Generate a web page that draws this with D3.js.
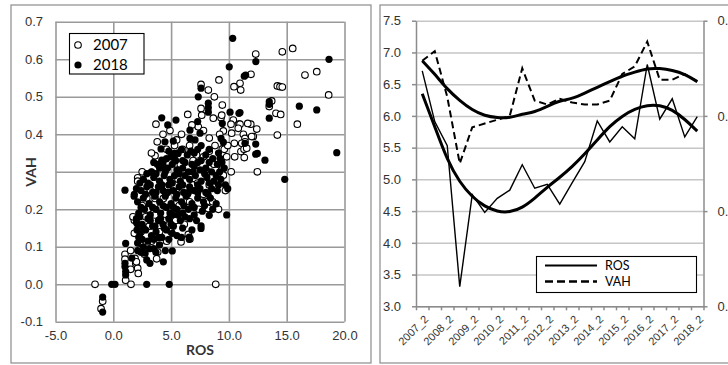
<!DOCTYPE html>
<html>
<head>
<meta charset="utf-8">
<script src="https://cdn.jsdelivr.net/npm/d3@7"></script>
<style>
  body { margin: 0; background: #fff; }
  svg { display: block; font-family: Lato, "Liberation Sans", sans-serif; }
</style>
</head>
<body>
<div id="chart"></div>
<script>
// ---- data ----
var cats = ["2007_2","2008_1","2008_2","2009_1","2009_2","2010_1","2010_2","2011_1","2011_2",
  "2012_1","2012_2","2013_1","2013_2","2014_1","2014_2","2015_1","2015_2","2016_1","2016_2",
  "2017_1","2017_2","2018_1","2018_2"];
var rosMean = [6.71,5.91,5.53,3.31,4.76,4.48,4.70,4.83,5.23,4.86,4.92,4.61,4.95,5.28,5.92,5.59,
  5.83,5.64,6.81,5.95,6.27,5.67,5.99];
var vahMean = [0.279,0.284,0.260,0.225,0.244,0.246,0.248,0.250,0.275,0.258,0.256,0.259,0.257,
  0.256,0.256,0.258,0.272,0.276,0.289,0.269,0.269,0.272,0.268];
// polynomial trend lines as shown in the chart
var rosTrend = [6.35,5.83,5.30,4.95,4.72,4.57,4.49,4.48,4.55,4.70,4.88,5.03,5.20,5.40,5.62,5.84,
  6.00,6.11,6.17,6.17,6.10,5.95,5.76];
var vahTrend = [0.279,0.272,0.264,0.258,0.253,0.250,0.249,0.249,0.251,0.252,0.255,0.258,0.259,
  0.262,0.265,0.268,0.271,0.273,0.275,0.275,0.274,0.272,0.268];
var xTicksL = [-5, 0, 5, 10, 15, 20];
var yTicksL = [-0.1, 0, 0.1, 0.2, 0.3, 0.4, 0.5, 0.6, 0.7];
var yTicksR = [3.0, 3.5, 4.0, 4.5, 5.0, 5.5, 6.0, 6.5, 7.0, 7.5];
var yTicks2 = [0.15, 0.20, 0.25, 0.30];

// [ROS, VAH] per firm
var pts2007 = [[12.32,0.614],[14.62,0.620],[15.52,0.629],[11.91,0.560],[16.58,0.558],[17.60,0.567],
  [14.19,0.529],[14.42,0.527],[14.62,0.526],[18.63,0.505],[13.70,0.489],[13.49,0.474],
  [14.07,0.456],[14.48,0.453],[15.92,0.427],[14.19,0.398],
  [10.96,0.536],[10.44,0.527],[11.02,0.518],[9.14,0.545],[7.59,0.533],[8.22,0.518],[8.74,0.500],
  [7.59,0.469],[9.43,0.478],[6.44,0.453],[7.65,0.451],[8.65,0.443],[9.32,0.444],[9.38,0.451],[10.38,0.438],
  [10.18,0.427],[10.87,0.427],[10.96,0.427],[11.89,0.427],[11.63,0.429],[3.69,0.427],[7.35,0.420],
  [9.52,0.409],[10.24,0.403],[10.81,0.416],[12.41,0.414],[11.25,0.400],[12.11,0.394],[11.39,0.389],
  [11.97,0.394],[11.39,0.380],[10.47,0.376],[11.11,0.376],[5.48,0.385],[3.61,0.343],[5.57,0.349],
  [9.43,0.361],[9.43,0.349],[9.81,0.340],[11.04,0.354],[11.31,0.360],[11.54,0.363],[11.33,0.338],
  [12.46,0.300],[9.38,0.305],[9.52,0.291],[8.08,0.220],[8.22,0.202],[6.14,0.160],[6.49,0.133],
  [6.63,0.121],[5.86,0.113],[4.62,0.115],[4.04,0.114],[3.84,0.086],[3.75,0.068],[5.10,0.160],
  [3.61,0.229],[4.33,0.229],[2.11,0.284],[2.11,0.275],[1.82,0.171],[1.82,0.136],[1.01,0.080],
  [1.01,0.067],[1.07,0.011],[1.88,0.069],[1.94,0.056],[2.11,0.043],[2.16,0.029],
  [-1.58,0],[1.53,0],[8.86,0],[-0.92,-0.045],[-1.06,-0.065],
  [3.8,0.38],[4.6,0.36],[5.3,0.37],[6.0,0.36],[6.6,0.37],[7.2,0.345],[8.3,0.355],[8.8,0.37],
  [9.6,0.36],[6.9,0.33],[7.8,0.34],[5.8,0.32],[8.2,0.30],[9.0,0.29],[8.7,0.32],[5.6,0.28],
  [6.9,0.265],[7.3,0.27],[8.3,0.265],[4.7,0.26],[3.2,0.25],[5.5,0.245],[6.4,0.24],[7.8,0.24],
  [8.6,0.22],[9.1,0.20],[4.1,0.205],[3.0,0.20],[2.5,0.21],[5.7,0.21],[6.6,0.22],[7.4,0.20],
  [4.4,0.17],[2.8,0.18],[3.6,0.185],[5.0,0.20],[5.4,0.17],[2.4,0.14],[3.1,0.155],[4.0,0.14],
  [5.0,0.14],[2.3,0.11],[3.3,0.115],[2.7,0.08],[2.0,0.06],[1.5,0.04],[1.5,0.09],[9.7,0.25],
  [10.2,0.30],[10.5,0.34],[9.9,0.37],[9.2,0.40],[8.3,0.39],[7.8,0.41],[6.8,0.425],[5.9,0.40],
  [4.9,0.41],[4.3,0.40],[3.3,0.35],[2.5,0.30],[2.9,0.23],[1.7,0.18]];

var pts2018 = [[10.33,0.656],[10.03,0.580],[11.45,0.558],[11.33,0.555],[12.33,0.594],[18.66,0.600],
  [13.49,0.487],[13.49,0.480],[13.49,0.443],[16.09,0.475],[17.60,0.465],[10.96,0.458],[11.39,0.376],
  [12.32,0.374],[12.32,0.347],[12.46,0.349],[13.12,0.331],[14.83,0.280],[19.33,0.351],[10.87,0.456],
  [10.10,0.459],[7.35,0.500],[7.59,0.523],[8.22,0.483],[8.22,0.471],[8.22,0.459],[7.30,0.434],
  [9.43,0.429],[4.19,0.444],[5.42,0.438],[4.71,0.425],[6.63,0.411],[7.50,0.403],[7.07,0.385],
  [6.63,0.389],[9.32,0.389],[9.52,0.379],[4.47,0.380],[5.19,0.382],[4.13,0.361],[4.19,0.331],
  [4.19,0.318],[5.28,0.349],[5.28,0.336],[9.23,0.336],[9.81,0.185],[9.90,0.255],[8.30,0.184],
  [7.59,0.156],[7.59,0.149],[6.57,0.126],[6.57,0.120],[5.10,0.136],[5.10,0.089],[3.69,0.085],
  [3.17,0.056],[4.33,0.060],[1.01,0.251],[1.82,0.240],[3.32,0.299],[4.33,0.314],[1.07,0.109],
  [1.01,0.056],[1.01,0.047],[1.07,0.034],[1.07,0.025],[2.74,0.083],[2.89,0.065],[-0.14,0],
  [0.15,0],[2.89,0],[4.84,0],[-0.92,-0.034],[-0.92,-0.074],
  [2.0,0.175],[2.1,0.16],[2.05,0.145],[2.2,0.125],[2.1,0.11],
  [5.0,0.34],[5.6,0.35],[6.0,0.33],[6.4,0.345],[7.0,0.35],[7.6,0.33],[8.0,0.345],[8.6,0.335],
  [4.6,0.335],[3.8,0.32],[9.0,0.32],[7.3,0.36],[6.8,0.32],
  [3.3,0.30],[4.0,0.31],[4.5,0.30],[5.1,0.32],[5.5,0.305],[6.0,0.31],[6.5,0.30],[7.0,0.315],
  [7.5,0.305],[8.0,0.31],[8.5,0.30],[9.2,0.30],[9.6,0.31],[6.2,0.325],
  [2.6,0.28],[3.0,0.27],[3.5,0.285],[4.0,0.275],[4.4,0.29],[4.9,0.28],[5.3,0.29],[5.8,0.275],
  [6.2,0.29],[6.6,0.28],[7.1,0.29],[7.6,0.275],[8.1,0.285],[8.7,0.275],[9.3,0.28],[9.7,0.265],
  [2.0,0.255],[2.4,0.25],[2.9,0.26],[3.4,0.245],[3.9,0.26],[4.3,0.25],[4.8,0.265],[5.2,0.25],
  [5.7,0.26],[6.1,0.245],[6.6,0.26],[7.0,0.25],[7.5,0.255],[8.0,0.245],[8.5,0.255],[9.0,0.25],
  [2.1,0.22],[2.6,0.23],[3.1,0.215],[3.6,0.235],[4.0,0.22],[4.5,0.235],[5.0,0.215],[5.4,0.23],
  [5.9,0.22],[6.3,0.235],[6.8,0.215],[7.3,0.23],[7.8,0.22],[8.4,0.23],[8.9,0.215],
  [2.2,0.19],[2.7,0.20],[3.2,0.185],[3.7,0.20],[4.1,0.19],[4.6,0.205],[5.1,0.185],[5.5,0.20],
  [6.0,0.19],[6.5,0.20],[7.0,0.185],[7.7,0.195],
  [2.0,0.165],[2.5,0.16],[3.0,0.175],[3.4,0.155],[3.9,0.17],[4.3,0.16],[4.8,0.175],[5.2,0.155],
  [5.8,0.17],[6.2,0.18],
  [2.3,0.135],[2.8,0.145],[3.3,0.13],[3.7,0.14],[4.2,0.125],[4.6,0.145],[5.5,0.13],
  [2.6,0.10],[3.0,0.115],[3.5,0.095],[4.0,0.105],[2.1,0.09],
  [4.8,0.355],[5.9,0.36],[6.7,0.355],[8.3,0.36],[7.6,0.37],[9.1,0.35],
  [3.5,0.325],[4.3,0.325],[5.4,0.33],[7.3,0.325],[8.3,0.325],[9.4,0.325],
  [2.9,0.295],[3.7,0.295],[4.7,0.31],[5.7,0.295],[6.9,0.30],[7.9,0.295],[8.9,0.29],
  [2.3,0.27],[3.2,0.265],[4.2,0.265],[5.1,0.27],[6.0,0.265],[7.3,0.265],[8.3,0.27],[9.1,0.265],
  [1.8,0.235],[2.8,0.24],[3.7,0.245],[4.7,0.245],[5.5,0.24],[6.5,0.245],[7.3,0.245],[8.2,0.24],
  [2.4,0.205],[3.4,0.205],[4.3,0.21],[5.2,0.205],[6.1,0.21],[7.0,0.205],[7.9,0.21],[8.6,0.20],
  [2.3,0.18],[3.2,0.17],[4.1,0.175],[4.9,0.19],[5.6,0.185],[6.6,0.175],[7.2,0.17],
  [2.6,0.15],[3.6,0.155],[4.4,0.15],[5.0,0.16],[6.0,0.15],[6.8,0.145],
  [2.5,0.12],[3.5,0.12],[3.9,0.125],[4.8,0.12],[5.9,0.125],
  [2.4,0.085],[3.1,0.095],[4.5,0.09],[1.6,0.07]];

var W = 728, H = 365;
var svg = d3.select("#chart").append("svg").attr("width", W).attr("height", H);

// panel frames
svg.append("rect").attr("x", 11).attr("y", 5).attr("width", 360).attr("height", 358)
  .attr("fill", "#fff").attr("stroke", "#8c8c8c").attr("stroke-width", 1.2);
svg.append("rect").attr("x", 380).attr("y", 5).attr("width", 370).attr("height", 358)
  .attr("fill", "#fff").attr("stroke", "#8c8c8c").attr("stroke-width", 1.2);

// ================= left: scatter =================
var sx = d3.scaleLinear().domain([-5, 20]).range([55.5, 344.5]);
var sy = d3.scaleLinear().domain([-0.1, 0.7]).range([321.8, 21.8]);

var gx = svg.append("g").attr("transform", "translate(0,321.8)")
  .call(d3.axisBottom(sx).tickValues(xTicksL).tickSizeInner(-300).tickSizeOuter(0)
    .tickPadding(9).tickFormat(d => d.toFixed(1)));
var gy = svg.append("g").attr("transform", "translate(55.5,0)")
  .call(d3.axisLeft(sy).tickValues(yTicksL).tickSizeInner(-289).tickSizeOuter(0)
    .tickPadding(12.5).tickFormat(d => d.toFixed(1)));
[gx, gy].forEach(function(g) {
  g.select(".domain").remove();
  g.selectAll("line").attr("stroke", "#9a9a9a").attr("stroke-width", 1.6);
  g.selectAll("text").attr("fill", "#333").attr("font-size", 13);
});

svg.append("g").selectAll("circle").data(pts2007).enter().append("circle")
  .attr("cx", d => sx(d[0])).attr("cy", d => sy(d[1])).attr("r", 3.3)
  .attr("fill", "#fff").attr("stroke", "#000").attr("stroke-width", 1.1);
svg.append("g").selectAll("circle").data(pts2018).enter().append("circle")
  .attr("cx", d => sx(d[0])).attr("cy", d => sy(d[1])).attr("r", 3.6)
  .attr("fill", "#000");

svg.append("text").attr("x", 200).attr("y", 355).attr("text-anchor", "middle")
  .attr("font-size", 14).attr("font-weight", "bold").attr("fill", "#333").text("ROS");
// axis title box hides the 0.3 tick label, as in the original
svg.append("rect").attr("x", 20).attr("y", 153).attr("width", 24).attr("height", 38).attr("fill", "#fff");
svg.append("text").attr("transform", "translate(36,172) rotate(-90)").attr("text-anchor", "middle")
  .attr("font-size", 14).attr("font-weight", "bold").attr("fill", "#333").text("VAH");

// legend left
var lg = svg.append("g");
lg.append("rect").attr("x", 69.5).attr("y", 33.5).attr("width", 74.5).attr("height", 40.5)
  .attr("fill", "#fff").attr("stroke", "#000").attr("stroke-width", 1.1);
lg.append("circle").attr("cx", 78).attr("cy", 45).attr("r", 3.3)
  .attr("fill", "#fff").attr("stroke", "#000").attr("stroke-width", 1.1);
lg.append("circle").attr("cx", 78).attr("cy", 65).attr("r", 3.6).attr("fill", "#000");
lg.append("text").attr("x", 93).attr("y", 45).attr("dy", "0.36em").attr("font-size", 15)
  .attr("fill", "#000").text("2007");
lg.append("text").attr("x", 93).attr("y", 65).attr("dy", "0.36em").attr("font-size", 15)
  .attr("fill", "#000").text("2018");

// ================= right: lines =================
var bx = d3.scaleBand().domain(cats).range([416, 703.5]).padding(0);
var cx = d => bx(d) + bx.bandwidth() / 2;
var ly = d3.scaleLinear().domain([3.0, 7.5]).range([306.3, 20.7]);
var ry = d3.scaleLinear().domain([0.15, 0.30]).range([306.3, 20.7]);
var edge = d3.scaleLinear().domain([0, cats.length]).range([416, 703.5]);

// gridlines
var gg = svg.append("g").attr("transform", "translate(416,0)")
  .call(d3.axisLeft(ly).tickValues(yTicksR).tickSize(-287.5).tickFormat(""));
gg.select(".domain").remove();
gg.selectAll("line").attr("stroke", "#c6c6c6").attr("stroke-width", 1.5);

var la = svg.append("g").attr("transform", "translate(416,0)")
  .call(d3.axisLeft(ly).tickValues(yTicksR).tickSizeInner(4).tickSizeOuter(0)
    .tickPadding(11).tickFormat(d => d.toFixed(1)));
var ra = svg.append("g").attr("transform", "translate(703.5,0)")
  .call(d3.axisRight(ry).tickValues(yTicks2).tickSizeInner(4).tickSizeOuter(0)
    .tickPadding(10).tickFormat(d => d.toFixed(2)));
var ba = svg.append("g").attr("transform", "translate(0,306.3)")
  .call(d3.axisBottom(edge).tickValues(d3.range(cats.length + 1)).tickSizeInner(4)
    .tickSizeOuter(0).tickFormat(""));
[la, ra, ba].forEach(function(g) {
  g.select(".domain").attr("stroke", "#8c8c8c").attr("stroke-width", 1.5);
  g.selectAll("line").attr("stroke", "#8c8c8c").attr("stroke-width", 1.5);
  g.selectAll("text").attr("fill", "#333").attr("font-size", 13);
});

var cl = svg.append("g").attr("transform", "translate(0,306.3)")
  .call(d3.axisBottom(bx).tickSize(0).tickFormat((d, i) => i % 2 === 0 ? d : ""));
cl.select(".domain").remove();
cl.selectAll("text").attr("y", null).attr("dy", "0.35em").attr("text-anchor", "end")
  .attr("transform", "translate(4,11) rotate(-45)").attr("font-size", 11).attr("fill", "#333");

var lineL = d3.line().x((d, i) => cx(cats[i])).y(d => ly(d));
var lineR = d3.line().x((d, i) => cx(cats[i])).y(d => ry(d));

svg.append("path").datum(rosMean).attr("d", lineL).attr("fill", "none")
  .attr("stroke", "#000").attr("stroke-width", 1.4);
svg.append("path").datum(vahMean).attr("d", lineR).attr("fill", "none")
  .attr("stroke", "#000").attr("stroke-width", 2).attr("stroke-dasharray", "7,4");
svg.append("path").datum(rosTrend).attr("d", lineL.curve(d3.curveBasis))
  .attr("fill", "none").attr("stroke", "#000").attr("stroke-width", 3);
svg.append("path").datum(vahTrend).attr("d", lineR.curve(d3.curveBasis))
  .attr("fill", "none").attr("stroke", "#000").attr("stroke-width", 3);

// legend right
var lr = svg.append("g");
lr.append("rect").attr("x", 536.5).attr("y", 256.5).attr("width", 160).attr("height", 36)
  .attr("fill", "#fff").attr("stroke", "#000").attr("stroke-width", 1.1);
lr.append("line").attr("x1", 545).attr("x2", 597).attr("y1", 265.5).attr("y2", 265.5)
  .attr("stroke", "#000").attr("stroke-width", 2);
lr.append("line").attr("x1", 545).attr("x2", 597).attr("y1", 281.5).attr("y2", 281.5)
  .attr("stroke", "#000").attr("stroke-width", 2.5).attr("stroke-dasharray", "8,4");
lr.append("text").attr("x", 605).attr("y", 265.5).attr("dy", "0.36em").attr("font-size", 12.5)
  .attr("fill", "#000").text("ROS");
lr.append("text").attr("x", 605).attr("y", 281.5).attr("dy", "0.36em").attr("font-size", 12.5)
  .attr("fill", "#000").text("VAH");
</script>
</body>
</html>
